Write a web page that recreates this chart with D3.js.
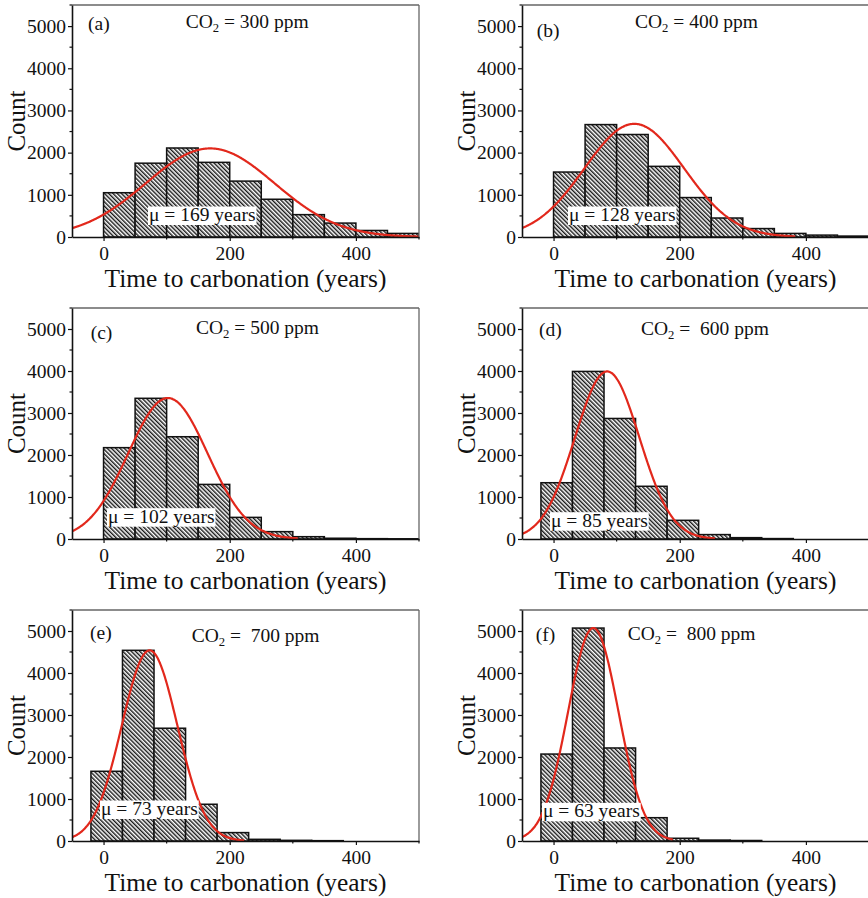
<!DOCTYPE html>
<html><head><meta charset="utf-8">
<script src="https://cdn.jsdelivr.net/npm/d3@7/dist/d3.min.js"></script>
<style>
html,body{margin:0;padding:0;background:#fff;}
svg{display:block;}
text{font-family:"Liberation Serif","Times New Roman",serif;fill:#111;white-space:pre;}
</style></head>
<body>
<svg id="chart" width="868" height="898"></svg>
<script>
// ---------- DATA ----------
const panelLetters = ["(a)", "(b)", "(c)", "(d)", "(e)", "(f)"];
const co2Values = [300, 400, 500, 600, 700, 800];
const co2Equals = [" = ", " = ", " = ", " =  ", " =  ", " =  "];
const binStarts = [0, 0, 0, -20, -20, -20];
const binWidth = 50;
const countsA = [1050, 1750, 2110, 1770, 1325, 895, 530, 330, 155, 85];
const countsB = [1540, 2665, 2430, 1675, 935, 450, 200, 85, 45, 22];
const countsC = [2175, 3350, 2435, 1300, 515, 175, 55, 18, 8, 5];
const countsD = [1340, 3990, 2870, 1255, 445, 105, 32, 10];
const countsE = [1660, 4540, 2685, 875, 200, 40, 16, 8];
const countsF = [2070, 5070, 2215, 555, 65, 22, 12];
const allCounts = [countsA, countsB, countsC, countsD, countsE, countsF];
const fitMean = [169, 128, 102, 85, 73, 63];
const fitSigma = [102, 79, 63, 51, 44, 40];
const fitPeak = [2100, 2683, 3357, 3990, 4540, 5071];
const fitEnd = [500, 383, 308, 256, 223, 189];
const xDomain = [-50, 500];
const yDomain = [0, 5500];
const xMajorTicks = [0, 200, 400];
const xMinorTicks = [100, 300, 500];
const yMajorTicks = [0, 1000, 2000, 3000, 4000, 5000];
const yMinorTicks = [500, 1500, 2500, 3500, 4500, 5500];
const xTitle = "Time to carbonation (years)";
const yTitle = "Count";

// ---------- LAYOUT ----------
const colLeft = [72, 522];
const plotW = 347;
const rowTop = [5, 308, 610];
const rowBottom = [237, 539, 841];
const letterPos = [[16,25],[14.7,31.7],[18.7,31.3],[17,28],[18,29.3],[13.7,30.7]];
const co2Pos = [[113.7,23],[113,23],[124,26.3],[119,26.7],[119.7,31.7],[105.7,30]];
const muPos = [[77,216],[47,216],[36,214.7],[29,218.7],[29,205],[21,207.3]];
const FS = 19.5;

const svg = d3.select("#chart");
const defs = svg.append("defs");
const pat = defs.append("pattern").attr("id","hatch")
  .attr("patternUnits","userSpaceOnUse").attr("width",3).attr("height",3)
  .attr("patternTransform","rotate(-45)");
pat.append("rect").attr("width",3).attr("height",3).attr("fill","#fff");
pat.append("line").attr("x1",0.75).attr("y1",0).attr("x2",0.75).attr("y2",3)
  .attr("stroke","#000").attr("stroke-width",1.3);

for (let i = 0; i < 6; i++) {
  const col = i % 2, row = Math.floor(i / 2);
  const x0 = colLeft[col], y0 = rowTop[row], h = rowBottom[row] - rowTop[row];
  const g = svg.append("g").attr("transform", `translate(${x0},${y0})`);
  const x = d3.scaleLinear().domain(xDomain).range([0, plotW]);
  const y = d3.scaleLinear().domain(yDomain).range([h, 0]);

  defs.append("clipPath").attr("id","clip"+i).append("rect")
    .attr("x",0).attr("y",-2).attr("width",plotW).attr("height",h+2);

  const bins = allCounts[i].map((c, k) => ({x0: binStarts[i] + k*binWidth, x1: binStarts[i] + (k+1)*binWidth, c}));
  const plot = g.append("g").attr("clip-path", `url(#clip${i})`);
  plot.selectAll("rect.bar").data(bins).join("rect").attr("class","bar")
    .attr("x", d => x(d.x0)).attr("width", d => x(d.x1) - x(d.x0))
    .attr("y", d => y(d.c)).attr("height", d => h - y(d.c))
    .attr("fill","url(#hatch)").attr("stroke","#111").attr("stroke-width",1.5);

  const pts = d3.range(xDomain[0], fitEnd[i] + 0.01, 1).map(t => [t, fitPeak[i]*Math.exp(-((t-fitMean[i])**2)/(2*fitSigma[i]**2))]);
  plot.append("path").datum(pts)
    .attr("d", d3.line().x(d => x(d[0])).y(d => y(d[1])).curve(d3.curveBasis))
    .attr("fill","none").attr("stroke","#e2281c").attr("stroke-width",2.2);

  // frame top/right
  g.append("line").attr("x1",0).attr("x2",plotW).attr("y1",0).attr("y2",0).attr("stroke","#666").attr("stroke-width",1.3);
  g.append("line").attr("x1",plotW).attr("x2",plotW).attr("y1",0).attr("y2",h).attr("stroke","#666").attr("stroke-width",1.3);

  // axes
  const xa = g.append("g").attr("transform",`translate(0,${h})`)
    .call(d3.axisBottom(x).tickValues(xMajorTicks).tickSizeInner(4).tickSizeOuter(0).tickPadding(5).tickFormat(d3.format("d")));
  xa.selectAll(".minor").data(xMinorTicks).join("line").attr("class","minor")
    .attr("x1", d => x(d)).attr("x2", d => x(d)).attr("y1",0).attr("y2",2.5).attr("stroke","#111").attr("stroke-width",1.2);
  const ya = g.append("g")
    .call(d3.axisLeft(y).tickValues(yMajorTicks).tickSizeInner(4).tickSizeOuter(0).tickPadding(2).tickFormat(d3.format("d")));
  ya.selectAll(".minor").data(yMinorTicks).join("line").attr("class","minor")
    .attr("y1", d => y(d)).attr("y2", d => y(d)).attr("x1",0).attr("x2",-2.5).attr("stroke","#111").attr("stroke-width",1.2);
  [xa, ya].forEach(a => {
    a.select(".domain").attr("stroke","#111").attr("stroke-width",1.6);
    a.selectAll(".tick line").attr("stroke","#111").attr("stroke-width",1.2);
    a.selectAll(".tick text").attr("font-size",FS).attr("font-family",null).attr("fill","#111");
  });
  xa.attr("font-family",null); ya.attr("font-family",null);

  // titles
  g.append("text").attr("x", plotW/2).attr("y", h + 49.5).attr("text-anchor","middle")
    .attr("font-size",25.4).text(xTitle);
  g.append("text").attr("transform",`translate(-47.5,${h/2}) rotate(-90)`).attr("text-anchor","middle")
    .attr("font-size",25).text(yTitle);

  // letters
  g.append("text").attr("x",letterPos[i][0]).attr("y",letterPos[i][1]).attr("font-size",FS).text(panelLetters[i]);

  // CO2 label
  const t = g.append("text").attr("x",co2Pos[i][0]).attr("y",co2Pos[i][1]).attr("font-size",FS);
  t.append("tspan").text("CO");
  t.append("tspan").attr("font-size",FS*0.65).attr("dy",4).text("2");
  t.append("tspan").attr("dy",-4).text(co2Equals[i] + co2Values[i] + " ppm");

  // mu label with white box
  const mg = g.append("g");
  const mt = mg.append("text").attr("x",muPos[i][0]).attr("y",muPos[i][1]).attr("font-size",FS)
    .text("μ = " + fitMean[i] + " years");
  const bb = mt.node().getBBox();
  mg.insert("rect","text").attr("x",bb.x - 1).attr("y",muPos[i][1] - 14.5)
    .attr("width",bb.width + 2).attr("height",18.5).attr("fill","#fff");
}
</script>
</body></html>
